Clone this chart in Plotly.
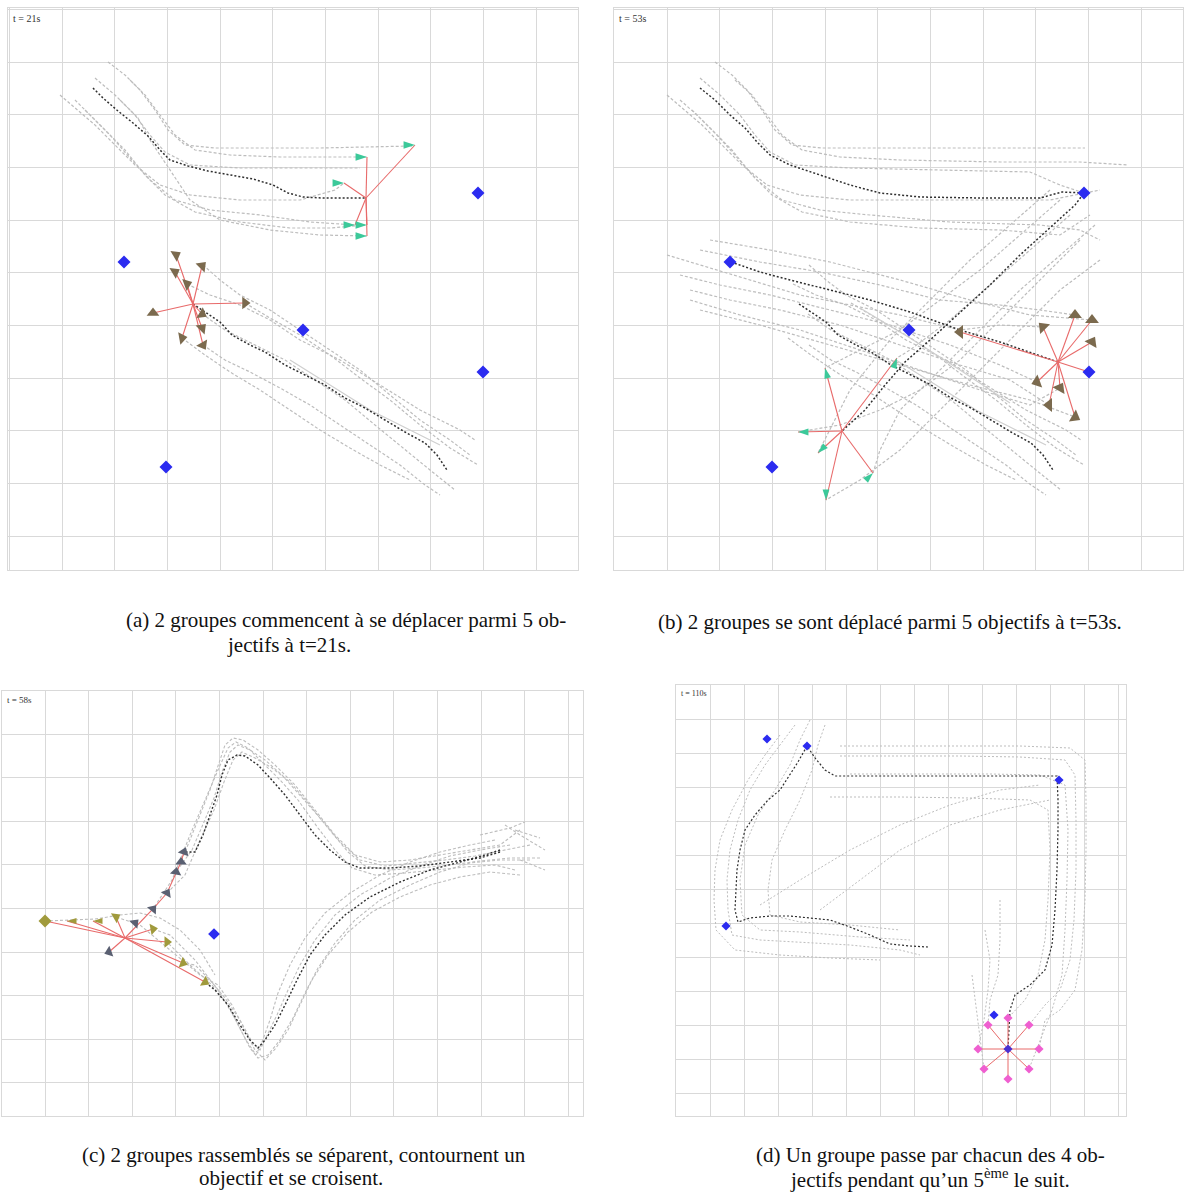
import plotly.graph_objects as go

W, H = 1186, 1203

# ------------------------------------------------------------------
# Panel frames (figure pixels): left, top, right, bottom ; grid spacing
# ------------------------------------------------------------------
panels = {
    "a": dict(box=(8, 8, 578, 570), grid=52.7, g0=(54, 54)),
    "b": dict(box=(614, 8, 1183, 570), grid=52.7, g0=(53, 54)),
    "c": dict(box=(2, 691, 583, 1116), grid=43.6, g0=(43, 43)),
    "d": dict(box=(676, 685, 1126, 1116), grid=34.0, g0=(34, 34)),
}
time_labels = {"a": "t = 21s", "b": "t = 53s", "c": "t = 58s", "d": "t = 110s"}

# ------------------------------------------------------------------
# DATA (world units of each panel, y grows downward)
# ------------------------------------------------------------------
objectives_ab = [(470, 185), (116, 254), (295, 322), (475, 364), (158, 459)]

# ---- panel (a) ----
teal_a_center = (358, 190)
teal_a_members = [(407, 137), (359, 149), (336, 175), (347, 217), (359, 217), (359, 228)]
teal_a_angles = [90, 90, 90, 90, 90, 90]
brown_a_center = (185, 296)
brown_a_members = [(168, 247), (167, 264), (194, 258), (179, 276), (237, 295),
                   (145, 305), (194, 306), (194, 320), (174, 330), (195, 337)]
brown_a_angles = [60, 60, 45, 70, 90, 0, 120, 45, 80, 150]
leader_a = [
    [(85, 80), (95, 90), (110, 103), (125, 115), (140, 128), (152, 142), (162, 152), (180, 158),
     (200, 163), (222, 167), (245, 171), (265, 177), (280, 185), (295, 189), (315, 190), (358, 190)],
    [(185, 296), (197, 304), (212, 314), (224, 327), (242, 337), (257, 344), (277, 357), (297, 367),
     (317, 377), (337, 390), (357, 400), (377, 412), (397, 424), (417, 435), (429, 447), (439, 462)],
]
trails_top_a = [
    [(100, 54), (117, 67), (132, 82), (147, 102), (160, 122), (177, 137), (207, 140), (252, 140), (312, 140), (404, 138)],
    [(122, 72), (137, 87), (152, 107), (167, 127), (187, 142), (222, 147), (272, 149), (322, 149), (359, 149)],
    [(87, 70), (107, 87), (127, 107), (142, 127), (157, 144), (182, 157), (232, 160), (292, 160), (352, 160)],
    [(52, 87), (67, 100), (87, 117), (107, 137), (127, 157), (152, 177), (182, 187), (232, 192), (292, 192), (327, 182), (336, 175)],
    [(67, 92), (82, 107), (102, 127), (122, 150), (142, 172), (167, 192), (202, 202), (252, 207), (302, 214), (347, 217)],
    [(77, 102), (97, 122), (117, 142), (137, 167), (157, 187), (187, 204), (232, 214), (282, 220), (322, 220), (359, 217)],
    [(112, 92), (130, 110), (142, 132), (162, 162), (182, 192), (212, 212), (262, 222), (312, 227), (359, 228)],
]
trails_low_a = [
    [(195, 257), (212, 272), (232, 287), (262, 302), (292, 322), (322, 342), (352, 362), (382, 387), (412, 412), (442, 432), (462, 447)],
    [(237, 295), (262, 310), (292, 327), (322, 347), (352, 370), (382, 392), (412, 417), (442, 440), (470, 457)],
    [(194, 306), (217, 322), (247, 337), (277, 352), (307, 372), (337, 392), (367, 417), (397, 442), (422, 462), (447, 482)],
    [(195, 337), (217, 352), (242, 364), (272, 380), (302, 397), (332, 417), (362, 437), (392, 457), (417, 477), (432, 487)],
    [(174, 330), (197, 347), (222, 364), (252, 382), (282, 402), (312, 422), (342, 440), (372, 457), (402, 472)],
    [(179, 276), (202, 287), (232, 297), (262, 312), (292, 332), (332, 352), (372, 377), (412, 402), (452, 422), (467, 432)],
]
solid_a = [[(282, 352), (322, 377), (362, 402), (402, 422), (432, 437)]]

# ---- panel (b) ----
brown_b_center = (444, 354)
brown_b_members = [(429, 319), (461, 307), (478, 312), (478, 334), (346, 324),
                   (423, 374), (446, 380), (435, 397), (461, 409)]
brown_b_angles = [315, 0, 0, 30, 270, 250, 30, 270, 120]
teal_b_center = (228, 423)
teal_b_members = [(211, 360), (283, 350), (184, 424), (204, 445), (259, 465), (212, 492)]
teal_b_angles = [345, 20, 270, 225, 45, 180]
leader_b = [
    [(86, 80), (101, 92), (116, 107), (131, 120), (144, 135), (156, 147), (176, 157), (206, 167), (236, 177),
     (266, 185), (306, 189), (366, 190), (426, 190), (448, 184), (470, 185), (461, 197), (436, 220), (406, 247),
     (376, 277), (346, 305), (316, 332), (291, 354), (271, 377), (251, 402), (228, 423)],
    [(185, 296), (197, 304), (212, 314), (224, 327), (242, 337), (257, 344), (277, 357), (297, 367),
     (317, 377), (337, 390), (357, 400), (377, 412), (397, 424), (417, 435), (429, 447), (439, 462)],
    [(117, 254), (146, 264), (176, 272), (216, 282), (256, 292), (296, 304), (346, 322), (386, 334), (444, 354)],
]
trails_b = [
    [(101, 54), (118, 67), (133, 82), (148, 102), (161, 122), (178, 137), (208, 140), (256, 140), (336, 140), (471, 140)],
    [(121, 72), (138, 87), (153, 107), (168, 127), (188, 142), (226, 149), (286, 152), (386, 154), (466, 154), (514, 157)],
    [(86, 70), (106, 87), (126, 107), (141, 127), (156, 144), (181, 157), (236, 160), (336, 162), (416, 164), (446, 177), (470, 185)],
    [(53, 87), (68, 100), (88, 117), (108, 137), (128, 157), (153, 177), (186, 187), (236, 192), (326, 192), (436, 192), (486, 182)],
    [(66, 92), (83, 107), (103, 127), (123, 150), (143, 172), (168, 192), (206, 202), (256, 207), (336, 214), (426, 217), (466, 222), (486, 232)],
    [(78, 102), (98, 122), (118, 142), (138, 167), (158, 187), (188, 204), (236, 214), (306, 220), (386, 222), (446, 227), (476, 207)],
    [(456, 207), (416, 242), (376, 277), (336, 312), (296, 342), (283, 350)],
    [(481, 217), (446, 247), (406, 282), (366, 322), (326, 362), (286, 402), (266, 442), (259, 465)],
    [(446, 192), (406, 227), (366, 262), (326, 292), (286, 322), (246, 342), (211, 360)],
    [(486, 252), (446, 282), (406, 322), (366, 362), (326, 402), (286, 442), (246, 472), (212, 492)],
    [(436, 182), (396, 217), (356, 252), (316, 292), (276, 332), (236, 382), (204, 445)],
    [(466, 232), (426, 272), (386, 312), (346, 352), (306, 382), (266, 402), (226, 417), (184, 424)],
    [(53, 247), (86, 257), (136, 272), (186, 287), (236, 297), (286, 307), (346, 322), (386, 317), (429, 319)],
    [(66, 267), (106, 277), (156, 287), (216, 302), (276, 317), (336, 337), (386, 357), (423, 374)],
    [(76, 282), (116, 292), (166, 302), (226, 317), (286, 337), (346, 357), (396, 372), (435, 397)],
    [(86, 242), (146, 254), (206, 264), (266, 277), (326, 292), (386, 297), (426, 302), (461, 307)],
    [(76, 292), (126, 307), (186, 322), (246, 342), (306, 362), (366, 382), (416, 397), (446, 380)],
    [(96, 232), (156, 242), (216, 254), (286, 272), (356, 292), (416, 307), (478, 312)],
    [(86, 302), (146, 317), (216, 337), (286, 357), (356, 377), (416, 392), (461, 409)],
] + trails_low_a
solid_b = [[(282, 352), (322, 377), (362, 402), (402, 422), (432, 437)],
           [(246, 300), (296, 330), (346, 362), (396, 395)]]

# ---- panel (c) ----
objectives_c = [(212, 243)]
olive_c_center = (123, 247)
olive_c_members = [(43, 230), (65, 230), (91, 230), (114, 226), (151, 238), (165, 251), (181, 272), (203, 291)]
olive_c_symbols = ["diamond", "arrow", "arrow", "triangle-up", "triangle-up", "triangle-up", "triangle-up", "triangle-up"]
olive_c_angles = [0, 270, 270, 60, 80, 90, 110, 120]
slate_c_members = [(182, 161), (179, 171), (174, 181), (165, 202), (151, 218), (133, 232), (107, 261)]
slate_c_angles = [20, 0, 10, 30, 40, 45, 250]
red_arc_c = [(123, 247), (151, 218), (165, 202), (174, 181), (179, 171), (182, 161)]
red_extra_c = [(107, 261)]
leader_c = [
    [(498, 161), (478, 167), (448, 171), (418, 175), (388, 177), (358, 177), (343, 171), (328, 159), (313, 144),
     (298, 124), (283, 104), (268, 87), (256, 74), (243, 65), (235, 64), (226, 69), (220, 84), (215, 104),
     (208, 124), (201, 144), (193, 161), (182, 161)],
    [(498, 159), (483, 164), (458, 171), (428, 179), (398, 191), (368, 206), (343, 224), (323, 244), (308, 264),
     (295, 289), (283, 314), (273, 334), (263, 349), (256, 357), (248, 349), (238, 334), (226, 314), (213, 299), (203, 291)],
]
trails_c = [
    [(518, 139), (498, 154), (468, 159), (438, 164), (408, 169), (378, 171), (353, 164), (333, 144), (313, 119), (293, 94),
     (273, 74), (256, 59), (241, 49), (231, 47), (223, 54), (216, 74), (208, 99), (198, 124), (188, 149), (179, 171)],
    [(528, 154), (503, 159), (473, 165), (443, 169), (413, 172), (383, 175), (358, 169), (338, 151), (318, 127), (298, 104),
     (280, 84), (263, 69), (248, 59), (236, 54), (228, 61), (220, 81), (212, 107), (202, 131), (190, 159), (174, 181)],
    [(538, 167), (508, 167), (478, 170), (448, 174), (418, 177), (388, 179), (363, 175), (346, 161), (326, 137), (306, 112),
     (288, 91), (270, 77), (253, 67), (240, 61), (231, 69), (222, 91), (212, 119), (198, 149), (183, 184), (165, 202)],
    [(513, 179), (493, 174), (463, 176), (433, 179), (403, 182), (373, 184), (350, 177), (333, 159), (316, 137), (296, 109),
     (278, 89), (260, 71), (246, 57), (234, 51), (226, 57), (216, 79), (203, 109), (188, 144), (170, 189), (151, 218)],
    [(508, 154), (478, 159), (448, 165), (418, 175), (388, 187), (358, 204), (333, 224), (313, 249), (298, 274), (286, 299),
     (275, 324), (265, 344), (258, 359), (250, 351), (238, 329), (223, 307), (208, 289), (193, 274), (181, 272)],
    [(528, 169), (498, 169), (468, 172), (438, 181), (408, 194), (378, 209), (353, 229), (333, 252), (316, 277), (303, 302),
     (291, 327), (278, 349), (266, 364), (256, 367), (248, 357), (238, 337), (226, 314), (210, 294), (188, 274), (165, 251)],
    [(493, 149), (468, 154), (438, 161), (408, 171), (378, 184), (348, 202), (323, 222), (303, 247), (288, 274), (276, 302),
     (268, 329), (260, 351), (254, 364), (244, 349), (231, 324), (216, 299), (193, 269), (168, 244), (151, 238)],
    [(518, 184), (488, 181), (458, 186), (428, 194), (398, 206), (370, 221), (346, 241), (326, 264), (310, 289), (298, 314),
     (286, 339), (274, 357), (263, 369), (253, 359), (243, 339), (230, 314), (216, 294), (198, 284), (168, 259), (138, 234), (114, 226)],
    [(43, 230), (68, 229), (93, 228), (118, 224), (138, 222), (158, 227), (178, 239), (198, 259), (213, 284)],
    [(503, 134), (518, 144), (543, 159)],
    [(513, 139), (538, 147)],
    [(518, 169), (543, 179)],
    [(478, 144), (508, 137), (523, 131)],
]

# ---- panel (d) ----
objectives_d = [(91, 54), (131, 61), (383, 95), (50, 241), (318, 330)]
pink_d_center = (332, 364)
pink_d_members = [(332, 333), (312, 340), (353, 340), (302, 364), (363, 364), (308, 384), (353, 384), (332, 394)]
leader_d = [
    [(252, 262), (234, 261), (214, 259), (194, 250), (174, 242), (154, 235), (134, 233), (114, 231), (94, 231),
     (74, 233), (62, 237), (59, 225), (60, 205), (61, 185), (64, 165), (69, 145), (79, 130), (92, 115), (104, 105),
     (114, 90), (122, 77), (131, 61), (139, 73), (149, 85), (159, 91), (204, 91), (274, 91), (344, 91), (381, 91),
     (382, 115), (382, 145), (381, 185), (379, 225), (376, 260), (369, 285), (354, 300), (339, 310), (334, 325),
     (333, 345), (332, 364)],
]
trails_d = [
    [(164, 61), (224, 61), (284, 61), (344, 61), (394, 63), (409, 75), (410, 115), (410, 165), (409, 215), (406, 265),
     (399, 305), (384, 325), (369, 335), (363, 364)],
    [(164, 71), (224, 71), (284, 71), (344, 72), (389, 75), (399, 90), (400, 135), (400, 185), (398, 235), (394, 275),
     (384, 305), (369, 320), (353, 340)],
    [(174, 89), (244, 89), (314, 89), (364, 90), (389, 100), (392, 145), (391, 195), (389, 245), (386, 290), (376, 325),
     (364, 355), (353, 384)],
    [(154, 112), (224, 112), (294, 113), (354, 115), (372, 125), (374, 165), (372, 215), (369, 255), (362, 290), (349, 315), (332, 333)],
    [(119, 40), (104, 60), (89, 80), (74, 105), (62, 135), (54, 165), (51, 195), (52, 225), (56, 250), (84, 255), (124, 257),
     (174, 260), (224, 265), (244, 270)],
    [(134, 35), (124, 55), (114, 80), (99, 105), (82, 130), (69, 160), (64, 195), (66, 230), (84, 245), (124, 247), (184, 252), (234, 255)],
    [(104, 50), (89, 70), (72, 95), (56, 125), (44, 155), (39, 185), (38, 215), (40, 245), (59, 265), (104, 270), (154, 273), (204, 275)],
    [(149, 40), (142, 60), (136, 85), (124, 115), (109, 145), (96, 175), (92, 205), (94, 230), (124, 237), (174, 240), (224, 245)],
    [(84, 220), (124, 195), (174, 165), (224, 140), (274, 120), (324, 105), (364, 100)],
    [(144, 225), (184, 195), (224, 165), (274, 140), (324, 125), (374, 115)],
    [(309, 245), (314, 275), (312, 305), (308, 335), (302, 364)],
    [(324, 215), (324, 255), (322, 290), (314, 315), (312, 340)],
    [(296, 290), (300, 320), (304, 350), (308, 384)],
]

captions = [
    # text, x (px), y (px)
    ("(a) 2 groupes commencent à se déplacer parmi 5 ob-", 346, 620),
    ("jectifs à t=21s.", 289, 645),
    ("(b) 2 groupes se sont déplacé parmi 5 objectifs à t=53s.", 890, 622),
    ("(c) 2 groupes rassemblés se séparent, contournent un", 304, 1155),
    ("objectif et se croisent.", 291, 1178),
    ("(d) Un groupe passe par chacun des 4 ob-", 930, 1155),
    ("jectifs pendant qu’un 5<sup>ème</sup> le suit.", 930, 1178),
]

# ------------------------------------------------------------------
# Styles
# ------------------------------------------------------------------
GRID = "#d9d9d9"
TRAIL = "#bdbdbd"
LEADER = "#2f2f2f"
RED = "#e86a6a"
BLUE = "#2b2bf0"
TEAL = "#3cc99a"
BROWN = "#7b6a4e"
OLIVE = "#a09a3c"
SLATE = "#5a6072"
PINK = "#ef5fd0"
SERIF = "Liberation Serif, Times New Roman, serif"

fig = go.Figure()
ax_ids = {"a": "", "b": "2", "c": "3", "d": "4"}


def xy(points):
    return [p[0] for p in points], [p[1] for p in points]


def lines(panel, paths, color, width, dash):
    xs, ys = [], []
    for path in paths:
        px, py = xy(path)
        xs += px + [None]
        ys += py + [None]
    n = ax_ids[panel]
    fig.add_trace(go.Scatter(x=xs, y=ys, mode="lines", xaxis="x" + n, yaxis="y" + n,
                             line=dict(color=color, width=width, dash=dash),
                             hoverinfo="skip", showlegend=False))


def spokes(panel, center, members, color=RED, width=1.1):
    xs, ys = [], []
    for m in members:
        xs += [center[0], m[0], None]
        ys += [center[1], m[1], None]
    n = ax_ids[panel]
    fig.add_trace(go.Scatter(x=xs, y=ys, mode="lines", xaxis="x" + n, yaxis="y" + n,
                             line=dict(color=color, width=width),
                             hoverinfo="skip", showlegend=False))


def markers(panel, points, color, symbol, size, angles=None):
    px, py = xy(points)
    n = ax_ids[panel]
    mk = dict(color=color, symbol=symbol, size=size, line=dict(width=0))
    if angles is not None:
        mk["angle"] = angles
    fig.add_trace(go.Scatter(x=px, y=py, mode="markers", xaxis="x" + n, yaxis="y" + n,
                             marker=mk, hoverinfo="skip", showlegend=False))


TRAIL_DASH = "3px,2px"
LEAD_DASH = "2px,2px"

# panel (a)
lines("a", trails_top_a + trails_low_a, TRAIL, 1.2, TRAIL_DASH)
lines("a", solid_a, "#cfcfcf", 1.2, "solid")
lines("a", leader_a, LEADER, 1.5, LEAD_DASH)
spokes("a", teal_a_center, teal_a_members)
spokes("a", brown_a_center, brown_a_members)
markers("a", teal_a_members, TEAL, "arrow", 12, teal_a_angles)
markers("a", brown_a_members, BROWN, "triangle-up", 11, brown_a_angles)
markers("a", objectives_ab, BLUE, "diamond", 10)

# panel (b)
lines("b", trails_b, TRAIL, 1.2, TRAIL_DASH)
lines("b", solid_b, "#cfcfcf", 1.2, "solid")
lines("b", leader_b, LEADER, 1.5, LEAD_DASH)
spokes("b", brown_b_center, brown_b_members + [objectives_ab[3]])
spokes("b", teal_b_center, teal_b_members)
markers("b", brown_b_members, BROWN, "triangle-up", 12, brown_b_angles)
markers("b", teal_b_members, TEAL, "arrow", 11, teal_b_angles)
markers("b", objectives_ab, BLUE, "diamond", 10)

# panel (c)
lines("c", trails_c, TRAIL, 1.1, TRAIL_DASH)
lines("c", leader_c, LEADER, 1.4, LEAD_DASH)
spokes("c", olive_c_center, olive_c_members + red_extra_c)
lines("c", [red_arc_c], RED, 1.1, "solid")
markers("c", slate_c_members, SLATE, "triangle-up", 10, slate_c_angles)
px_, py_ = xy(olive_c_members)
fig.add_trace(go.Scatter(x=px_, y=py_, mode="markers", xaxis="x3", yaxis="y3",
                         marker=dict(color=OLIVE, symbol=olive_c_symbols, size=10,
                                     angle=olive_c_angles, line=dict(width=0)),
                         hoverinfo="skip", showlegend=False))
markers("c", objectives_c, BLUE, "diamond", 9)

# panel (d)
lines("d", trails_d, TRAIL, 1.0, "2px,2px")
lines("d", leader_d, LEADER, 1.2, "2px,2px")
spokes("d", pink_d_center, pink_d_members, width=1.0)
markers("d", pink_d_members, PINK, "diamond", 7)
markers("d", objectives_d, BLUE, "diamond", 7)
markers("d", [pink_d_center], "#4a2fd0", "diamond", 7)

# ------------------------------------------------------------------
# Axes
# ------------------------------------------------------------------
layout = dict(width=W, height=H, margin=dict(l=0, r=0, t=0, b=0),
              paper_bgcolor="white", plot_bgcolor="white", showlegend=False)
annotations = []
for key, p in panels.items():
    l, t, r, b = p["box"]
    n = ax_ids[key]
    common = dict(showgrid=True, gridcolor=GRID, gridwidth=1, showticklabels=False, ticks="",
                  zeroline=False, showline=True, mirror=True, linecolor=GRID, linewidth=1,
                  fixedrange=True, dtick=p["grid"])
    layout["xaxis" + n] = dict(domain=[l / W, r / W], range=[0, r - l], tick0=p["g0"][0],
                               anchor="y" + n, **common)
    layout["yaxis" + n] = dict(domain=[1 - b / H, 1 - t / H], range=[b - t, 0], tick0=p["g0"][1],
                               anchor="x" + n, **common)
    fs = {"a": 10, "b": 10, "c": 9, "d": 8}[key]
    annotations.append(dict(text=time_labels[key], xref=("x" + n) + " domain", yref=("y" + n) + " domain",
                            x=0.006, y=0.995, xanchor="left", yanchor="top", showarrow=False,
                            font=dict(family=SERIF, size=fs, color="#333")))

for text, cx, cy in captions:
    annotations.append(dict(text=text, xref="paper", yref="paper", x=cx / W, y=1 - cy / H,
                            xanchor="center", yanchor="middle", showarrow=False,
                            font=dict(family=SERIF, size=21, color="#111")))
layout["annotations"] = annotations
fig.update_layout(**layout)

fig.write_html("out.html", config={"displayModeBar": False},
               post_script="document.body.style.margin='0';document.body.style.overflow='hidden';")
